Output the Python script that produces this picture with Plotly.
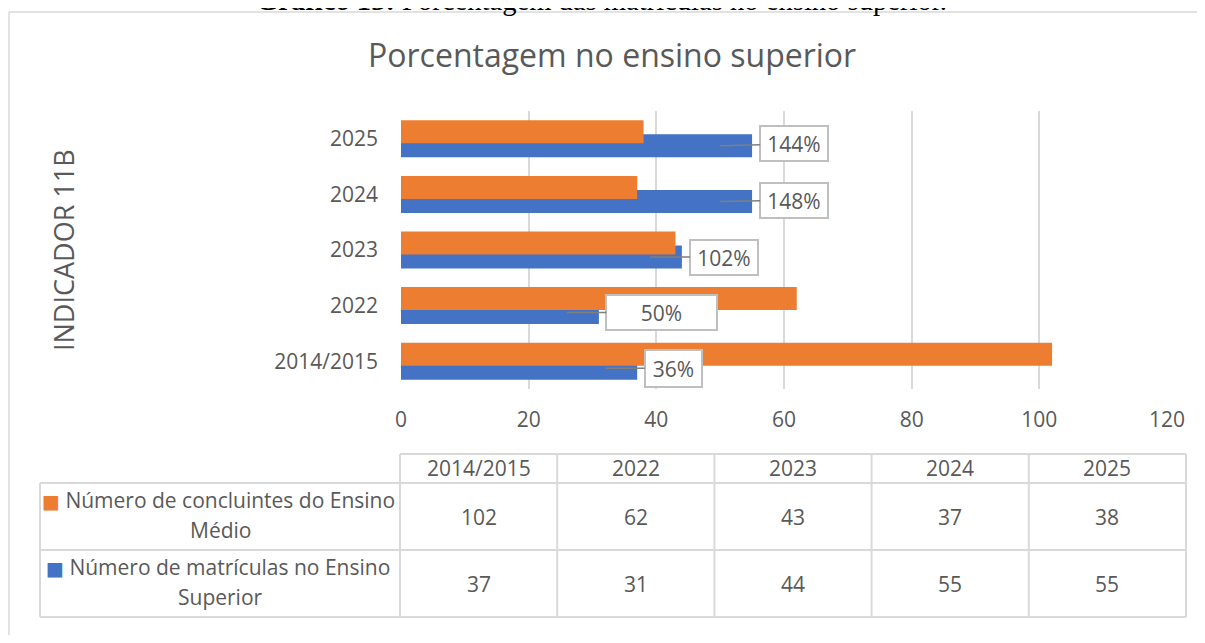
import math
import plotly.graph_objects as go

# ---------------- data ----------------
categories = ["2014/2015", "2022", "2023", "2024", "2025"]
concluintes = [102, 62, 43, 37, 38]      # Número de concluintes do Ensino Médio
matriculas = [37, 31, 44, 55, 55]        # Número de matrículas no Ensino Superior
x_ticks = [0, 20, 40, 60, 80, 100, 120]
series_lines = [["Número de concluintes do Ensino", "Médio"],
                ["Número de matrículas no Ensino", "Superior"]]
chart_title = "Porcentagem no ensino superior"
axis_title = "INDICADOR 11B"
caption_bold = "Gráfico 13:"
caption_rest = " Porcentagem das matrículas no ensino superior."

# ---------------- style ----------------
ORANGE = "#ED7D31"
BLUE = "#4472C4"
TXT = "#595959"
GRID = "#D9D9D9"
FONT = "Open Sans"

OFF = 8                      # page body margin of the html page
W, H = 1189, 627             # figure size (fits the 1205x643 window)
# plot area in page pixels
P_L, P_R, P_T, P_B = 401, 1167, 111, 389
L, T = P_L - OFF, P_T - OFF
R = W - (P_R - OFF)
B = H - (P_B - OFF)
PW, PH = W - L - R, H - T - B


def px(x):
    """page pixel x -> paper"""
    return (x - OFF - L) / PW


def py(y):
    """page pixel y -> paper"""
    return (H - B - (y - OFF)) / PH


BAR_W = 0.414
fig = go.Figure()
fig.add_trace(go.Bar(y=categories, x=matriculas, orientation="h",
                     marker=dict(color=BLUE, line=dict(width=0)),
                     width=BAR_W, offset=-0.333, showlegend=False,
                     name="Matrículas"))
fig.add_trace(go.Bar(y=categories, x=concluintes, orientation="h",
                     marker=dict(color=ORANGE, line=dict(width=0)),
                     width=BAR_W, offset=-0.081, showlegend=False,
                     name="Concluintes"))

# pointer ticks of the callouts (on the blue bars)
ptr_x = [m - 5 for m in matriculas]
ptr_y = [i - 0.126 for i in range(len(categories))]
fig.add_trace(go.Scatter(x=ptr_x, y=ptr_y, mode="markers",
                         marker=dict(symbol="line-ns-open", size=9,
                                     line=dict(color=TXT, width=1.5)),
                         showlegend=False, hoverinfo="skip"))

annotations = []
shapes = []

# callout labels: percentage matriculas / concluintes
box_w = [55, 109, 66, 66, 66]
box_h = [35, 33, 33, 33, 33]
box_ax = [68, 95, 74, 74, 74]
box_ay = [0, 0, 0, -1, -2]
for i, cat in enumerate(categories):
    pct = math.floor(100 * matriculas[i] / concluintes[i])
    annotations.append(dict(
        x=ptr_x[i], y=ptr_y[i], xref="x", yref="y",
        text=f"{pct}%", showarrow=True, arrowhead=0, arrowwidth=1.5,
        arrowcolor="#7F7F7F", ax=box_ax[i], ay=box_ay[i],
        font=dict(family=FONT, size=21, color=TXT),
        bgcolor="white", bordercolor="#BFBFBF", borderwidth=2, borderpad=0,
        width=box_w[i], height=box_h[i], align="center", valign="middle"))

# chart title
annotations.append(dict(x=px(612), y=py(55), xref="paper", yref="paper",
                        text=chart_title, showarrow=False,
                        font=dict(family=FONT, size=32, color=TXT),
                        xanchor="center", yanchor="middle"))
# y axis title
annotations.append(dict(x=px(63), y=py(250), xref="paper", yref="paper",
                        text=axis_title, showarrow=False, textangle=-90,
                        font=dict(family=FONT, size=27, color=TXT),
                        xanchor="center", yanchor="middle"))
# caption above the chart (cut by the page top)
annotations.append(dict(x=px(601), y=py(0.5), xref="paper", yref="paper",
                        text=f"<b>{caption_bold}</b>{caption_rest}",
                        showarrow=False,
                        font=dict(family="Liberation Serif", size=28.6, color="black"),
                        xanchor="center", yanchor="middle"))

# chart frame (left and top edges visible)
shapes.append(dict(type="line", xref="paper", yref="paper",
                   x0=px(9), x1=px(9), y0=py(12), y1=py(700),
                   line=dict(color=GRID, width=1.5)))
shapes.append(dict(type="line", xref="paper", yref="paper",
                   x0=px(9), x1=px(1260), y0=py(12), y1=py(12),
                   line=dict(color=GRID, width=1.5)))

# ---------------- data table ----------------
TX0, TX1 = 400, 1186
LX0 = 40
Y_HEAD, Y_R1, Y_R2, Y_END = 454, 483, 550, 617
n = len(categories)
cw = (TX1 - TX0) / n
tl = dict(color=GRID, width=2)


def hline(y, x0, x1):
    shapes.append(dict(type="line", xref="paper", yref="paper",
                       x0=px(x0), x1=px(x1), y0=py(y), y1=py(y), line=tl))


def vline(x, y0, y1):
    shapes.append(dict(type="line", xref="paper", yref="paper",
                       x0=px(x), x1=px(x), y0=py(y0), y1=py(y1), line=tl))


hline(Y_HEAD, TX0, TX1)
for yy in (Y_R1, Y_R2, Y_END):
    hline(yy, LX0, TX1)
vline(LX0, Y_R1, Y_END)
for k in range(n + 1):
    vline(TX0 + k * cw, Y_HEAD, Y_END)

cell_font = dict(family=FONT, size=21, color=TXT)
rows = [(concluintes, ORANGE, series_lines[0], Y_R1, Y_R2),
        (matriculas, BLUE, series_lines[1], Y_R2, Y_END)]
for k, cat in enumerate(categories):
    cx = TX0 + (k + 0.5) * cw
    annotations.append(dict(x=px(cx), y=py((Y_HEAD + Y_R1) / 2 - 1),
                            xref="paper", yref="paper", text=cat,
                            showarrow=False, font=cell_font,
                            xanchor="center", yanchor="middle"))
    for vals, col, name, y0, y1 in rows:
        annotations.append(dict(x=px(cx), y=py((y0 + y1) / 2),
                                xref="paper", yref="paper", text=str(vals[k]),
                                showarrow=False, font=cell_font,
                                xanchor="center", yanchor="middle"))
for vals, col, lines, y0, y1 in rows:
    ym = (y0 + y1) / 2
    annotations.append(dict(
        x=px((LX0 + TX0) / 2 - 2), y=py(ym - 17), xref="paper", yref="paper",
        text=(f"<span style='color:{col};font-family:DejaVu Sans;"
              f"font-size:19px'>■</span> {lines[0]}"),
        showarrow=False, font=cell_font, xanchor="center", yanchor="middle"))
    annotations.append(dict(
        x=px((LX0 + TX0) / 2), y=py(ym + 13), xref="paper", yref="paper",
        text=lines[1], showarrow=False, font=cell_font,
        xanchor="center", yanchor="middle"))

fig.update_layout(
    width=W, height=H,
    margin=dict(l=L, r=R, t=T, b=B, autoexpand=False),
    paper_bgcolor="white", plot_bgcolor="white",
    barmode="overlay",
    font=dict(family=FONT, size=21, color=TXT),
    xaxis=dict(range=[0, 120], tickvals=x_ticks, showgrid=True,
               gridcolor=GRID, gridwidth=1.5, zeroline=False, showline=False,
               ticks="", ticklabelstandoff=16,
               tickfont=dict(family=FONT, size=21, color=TXT), fixedrange=True),
    yaxis=dict(type="category", categoryorder="array", categoryarray=categories,
               range=[-0.5, 4.5], showgrid=False, zeroline=False,
               showline=False, ticks="", ticklabelstandoff=22,
               tickfont=dict(family=FONT, size=21, color=TXT), fixedrange=True),
    annotations=annotations,
    shapes=shapes,
)

fig.write_html("out.html")
